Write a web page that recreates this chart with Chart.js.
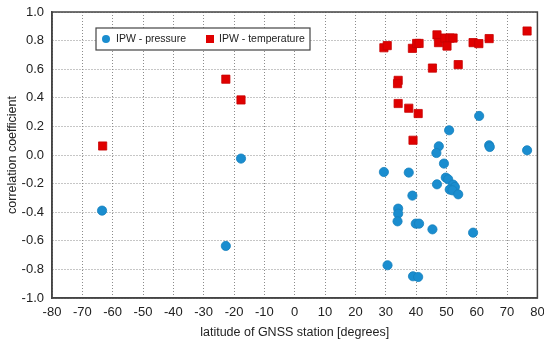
<!DOCTYPE html>
<html>
<head>
<meta charset="utf-8">
<script src="https://cdn.jsdelivr.net/npm/chart.js@4.4.1/dist/chart.umd.min.js"></script>
<style>
  html, body { margin: 0; padding: 0; background: #fff; }
  #wrap { width: 544px; height: 340px; }
</style>
</head>
<body>
<div id="wrap"><canvas id="c" width="544" height="340"></canvas></div>
<script>
// latitude [deg] and correlation
const pressureLat = [-63.5, -22.7, -17.7, 50.9, 60.8, 64.1, 64.3, 76.6, 47.5, 46.7, 49.2, 29.4, 37.6,
  49.8, 50.6, 46.9, 52.2, 52.8, 51.1, 52.0, 53.9, 38.8, 34.1, 34.1, 33.9, 39.9, 41.0, 45.4, 58.8,
  30.6, 39.0, 40.7];
const pressureR = [-0.389, -0.636, -0.025, 0.173, 0.273, 0.068, 0.056, 0.033, 0.061, 0.014, -0.06, -0.119, -0.123,
  -0.158, -0.17, -0.205, -0.207, -0.224, -0.242, -0.247, -0.275, -0.284, -0.375, -0.41, -0.464, -0.48, -0.48, -0.52, -0.543,
  -0.771, -0.848, -0.853];

const temperatureLat = [-63.3, -22.7, -17.7, 29.4, 30.5, 38.8, 40.2, 41.0, 46.9, 47.4, 49.5, 51.2, 52.2,
  50.2, 58.8, 60.7, 64.1, 76.6, 45.4, 53.9, 34.1, 33.9, 34.1, 37.6, 40.7, 39.0];
const temperatureR = [0.063, 0.53, 0.385, 0.75, 0.765, 0.746, 0.78, 0.78, 0.84, 0.786, 0.818, 0.818, 0.818,
  0.762, 0.786, 0.779, 0.814, 0.867, 0.608, 0.632, 0.522, 0.499, 0.36, 0.327, 0.29, 0.103];

const seriesNames = ['IPW - pressure', 'IPW - temperature'];
const blue = '#1a8dcf';
const red = '#e00000';
const fontFamily = '"Liberation Sans", Arial, sans-serif';

const toPoints = (xs, ys) => xs.map((x, i) => ({ x: x, y: ys[i] }));

// legend box drawn inside the plot area
const boxLegend = {
  id: 'boxLegend',
  afterDraw(chart) {
    const ctx = chart.ctx;
    const x0 = 96, y0 = 28, w = 214, h = 22;
    ctx.save();
    ctx.fillStyle = '#fff';
    ctx.fillRect(x0, y0, w, h);
    ctx.strokeStyle = '#444';
    ctx.lineWidth = 1.2;
    ctx.strokeRect(x0, y0, w, h);
    ctx.font = '10.5px ' + fontFamily;
    ctx.textBaseline = 'middle';
    const cy = y0 + h / 2;
    // pressure
    ctx.beginPath();
    ctx.fillStyle = blue;
    ctx.arc(x0 + 10, cy, 4, 0, Math.PI * 2);
    ctx.fill();
    ctx.fillStyle = '#222';
    ctx.fillText(chart.data.datasets[0].label, x0 + 20, cy);
    // temperature
    ctx.fillStyle = red;
    ctx.fillRect(x0 + 110, cy - 4, 8, 8);
    ctx.fillStyle = '#222';
    ctx.fillText(chart.data.datasets[1].label, x0 + 123, cy);
    ctx.restore();
  }
};

// solid frame round the plot area
const frame = {
  id: 'frame',
  beforeDatasetsDraw(chart) {
    const a = chart.chartArea, ctx = chart.ctx;
    ctx.save();
    ctx.strokeStyle = '#444';
    ctx.lineWidth = 1.5;
    ctx.strokeRect(a.left, a.top, a.right - a.left, a.bottom - a.top);
    ctx.restore();
  }
};

new Chart(document.getElementById('c'), {
  type: 'scatter',
  data: {
    datasets: [
      {
        label: seriesNames[0],
        data: toPoints(pressureLat, pressureR),
        pointStyle: 'circle',
        pointRadius: 4.6,
        backgroundColor: blue,
        borderColor: '#1580bd',
        borderWidth: 0.8
      },
      {
        label: seriesNames[1],
        data: toPoints(temperatureLat, temperatureR),
        pointStyle: 'rect',
        pointRadius: 5.8,
        backgroundColor: red,
        borderColor: '#c80000',
        borderWidth: 0.8
      }
    ]
  },
  options: {
    responsive: false,
    animation: false,
    layout: { padding: { top: 12, right: 6, left: 0, bottom: 0 } },
    plugins: {
      legend: { display: false },
      tooltip: { enabled: false }
    },
    scales: {
      x: {
        type: 'linear',
        min: -80, max: 80,
        afterFit: (s) => { s.height = 42; s.paddingLeft = 0; s.paddingRight = 0; },
        ticks: {
          stepSize: 10,
          color: '#222',
          padding: 7,
          font: { family: fontFamily, size: 13 }
        },
        grid: { color: '#8c8c8c', lineWidth: 1, drawTicks: false },
        border: { display: true, color: '#444', width: 1.5, dash: [1, 2] },
        title: {
          display: true,
          text: 'latitude of GNSS station [degrees]',
          color: '#222',
          padding: { top: 1, bottom: 0 },
          font: { family: fontFamily, size: 12.5 }
        }
      },
      y: {
        type: 'linear',
        min: -1, max: 1,
        afterFit: (s) => { s.width = 52; s.paddingTop = 0; s.paddingBottom = 0; },
        ticks: {
          stepSize: 0.2,
          color: '#222',
          padding: 8,
          callback: (v) => (Math.abs(v) < 1e-9 ? 0 : v).toFixed(1),
          font: { family: fontFamily, size: 13 }
        },
        grid: { color: '#8c8c8c', lineWidth: 1, drawTicks: false },
        border: { display: true, color: '#444', width: 1.5, dash: [1, 2] },
        title: {
          display: true,
          text: 'correlation coefficient',
          color: '#222',
          padding: { top: 5, bottom: 0 },
          font: { family: fontFamily, size: 12.5 }
        }
      }
    }
  },
  plugins: [frame, boxLegend]
});
</script>
</body>
</html>
